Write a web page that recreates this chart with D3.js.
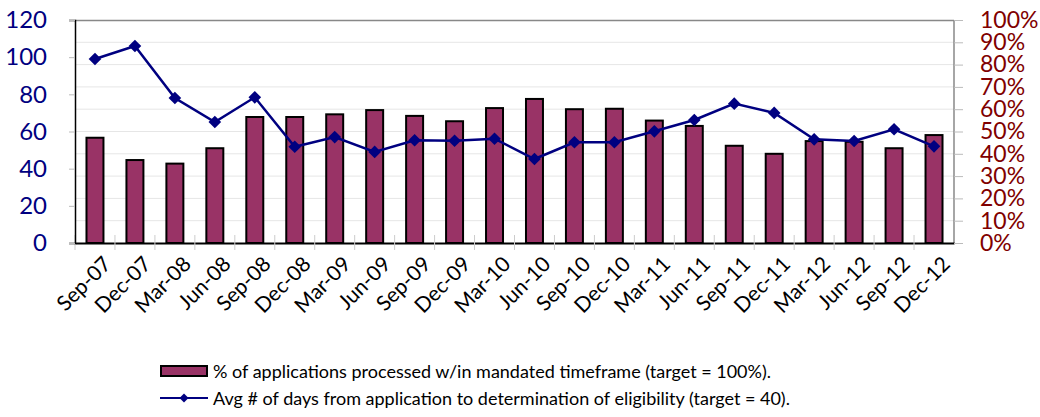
<!DOCTYPE html>
<meta charset="utf-8">
<script src="https://d3js.org/d3.v7.min.js"></script>
<style>
body { margin: 0; background-color: white; }
text { font-family: Lato, "Open Sans", sans-serif; }
</style>
<div id="chart"></div>
<script>
  // quarters on the x axis
  var quarters = ["Sep-07","Dec-07","Mar-08","Jun-08","Sep-08","Dec-08","Mar-09","Jun-09",
                  "Sep-09","Dec-09","Mar-10","Jun-10","Sep-10","Dec-10","Mar-11","Jun-11",
                  "Sep-11","Dec-11","Mar-12","Jun-12","Sep-12","Dec-12"];
  // % of applications processed within mandated timeframe (right axis)
  var pctOnTime = [47.2,37.2,35.6,42.5,56.5,56.5,57.7,59.6,57.0,54.6,60.5,64.6,
                   60.0,60.2,54.9,52.5,43.6,40.0,45.7,45.4,42.5,48.4];
  // avg # of days from application to eligibility (left axis)
  var avgDays = [99.0,106.0,78.0,65.1,78.4,51.8,57.0,49.0,55.3,55.0,56.1,45.2,
                 54.2,54.2,60.1,66.2,75.0,70.0,55.8,54.9,61.2,52.0];
  var leftTicks = [0,20,40,60,80,100,120];
  var rightTicks = [0,0.1,0.2,0.3,0.4,0.5,0.6,0.7,0.8,0.9,1];

  var width = 1040, height = 417;
  var margin = {top: 20, right: 86, bottom: 174, left: 75};
  var w = width - margin.left - margin.right,
      h = height - margin.top - margin.bottom;

  var svg = d3.select("#chart").append("svg")
      .attr("width", width)
      .attr("height", height)
    .append("g")
      .attr("transform", "translate(" + margin.left + "," + margin.top + ")");

  var x = d3.scaleBand().domain(quarters).range([0, w])
      .paddingInner(0.575).paddingOuter(0.2875);
  var yL = d3.scaleLinear().domain([0, 120]).range([h, 0]);
  var yR = d3.scaleLinear().domain([0, 1]).range([h, 0]);

  // gridlines
  svg.append("g")
    .selectAll("line")
    .data(rightTicks.slice(1, -1))
    .enter().append("line")
      .attr("x1", 0).attr("x2", w)
      .attr("y1", function(d) { return yR(d); })
      .attr("y2", function(d) { return yR(d); })
      .style("stroke", "#e6e6e6").style("stroke-width", 1);

  // frame: top + right in gray
  svg.append("line").attr("x1", 0).attr("x2", w).attr("y1", 0.5).attr("y2", 0.5)
    .style("stroke", "#888").style("stroke-width", 1.5);
  svg.append("line").attr("x1", w).attr("x2", w).attr("y1", 0).attr("y2", h)
    .style("stroke", "#888").style("stroke-width", 1.5);

  // bars
  svg.append("g")
    .selectAll("rect")
    .data(pctOnTime)
    .enter().append("rect")
      .attr("x", function(d, i) { return x(quarters[i]); })
      .attr("width", x.bandwidth())
      .attr("y", function(d) { return yR(d / 100); })
      .attr("height", function(d) { return h - yR(d / 100); })
      .style("fill", "#993366")
      .style("stroke", "#000")
      .style("stroke-width", 2);

  // x axis
  var xAxis = svg.append("g")
      .attr("transform", "translate(0," + h + ")")
      .call(d3.axisBottom(x).tickSize(0).tickFormat(""));
  xAxis.select(".domain").style("stroke", "#000").style("stroke-width", 2);
  // band boundary ticks
  svg.append("g")
    .selectAll("line")
    .data(quarters)
    .enter().append("line")
      .attr("x1", function(d) { return x(d) + x.bandwidth() / 2 - x.step() / 2; })
      .attr("x2", function(d) { return x(d) + x.bandwidth() / 2 - x.step() / 2; })
      .attr("y1", h - 8).attr("y2", h + 7)
      .style("stroke", "#ccc");
  svg.append("g")
    .selectAll("text")
    .data(quarters)
    .enter().append("text")
      .attr("transform", function(d) {
        return "translate(" + (x(d) + x.bandwidth() / 2 + 7) + "," + (h + 12) + ") rotate(-45)";
      })
      .attr("text-anchor", "end")
      .attr("dy", "0.7em")
      .style("font-size", "21px")
      .style("fill", "#000")
      .text(function(d) { return d; });

  // left axis
  var left = svg.append("g")
      .call(d3.axisLeft(yL).tickValues(leftTicks).tickSize(6).tickPadding(22));
  left.select(".domain").style("stroke", "#000").style("stroke-width", 1.5);
  left.selectAll(".tick line").style("stroke", "#bbb");
  left.selectAll("text").style("font-size", "24px").style("fill", "#000080")
    .style("font-family", "Lato, sans-serif");

  // right axis
  var right = svg.append("g")
      .attr("transform", "translate(" + w + ",0)")
      .call(d3.axisRight(yR).tickValues(rightTicks).tickSize(9).tickPadding(17)
            .tickFormat(d3.format(".0%")));
  right.select(".domain").remove();
  right.selectAll(".tick line").style("stroke", "#bbb");
  right.selectAll("text").style("font-size", "23px").style("fill", "#800000")
    .style("font-family", "Lato, sans-serif");

  // line + diamonds
  var line = d3.line()
      .x(function(d, i) { return x(quarters[i]) + x.bandwidth() / 2; })
      .y(function(d) { return yL(d); });
  svg.append("path")
    .datum(avgDays)
    .attr("d", line)
    .style("fill", "none")
    .style("stroke", "#000080")
    .style("stroke-width", 2.5);
  var diamond = d3.symbol().type(d3.symbolSquare).size(80);
  svg.append("g")
    .selectAll("path")
    .data(avgDays)
    .enter().append("path")
      .attr("d", diamond)
      .attr("transform", function(d, i) {
        return "translate(" + (x(quarters[i]) + x.bandwidth() / 2) + "," + yL(d) + ") rotate(45)";
      })
      .style("fill", "#000080");

  // legend
  var legend = d3.select("svg").append("g");
  legend.append("rect")
    .attr("x", 161).attr("y", 366).attr("width", 46).attr("height", 10)
    .style("fill", "#993366").style("stroke", "#000").style("stroke-width", 2);
  legend.append("text")
    .attr("x", 213).attr("y", 378)
    .style("font-size", "18px")
    .text("% of applications processed w/in mandated timeframe (target = 100%).");
  legend.append("line")
    .attr("x1", 160).attr("x2", 208).attr("y1", 398).attr("y2", 398)
    .style("stroke", "#000080").style("stroke-width", 2);
  legend.append("path")
    .attr("d", d3.symbol().type(d3.symbolSquare).size(40))
    .attr("transform", "translate(184,398) rotate(45)")
    .style("fill", "#000080");
  legend.append("text")
    .attr("x", 213).attr("y", 405)
    .style("font-size", "18px")
    .text("Avg # of days from application to determination of eligibility (target = 40).");
</script>
